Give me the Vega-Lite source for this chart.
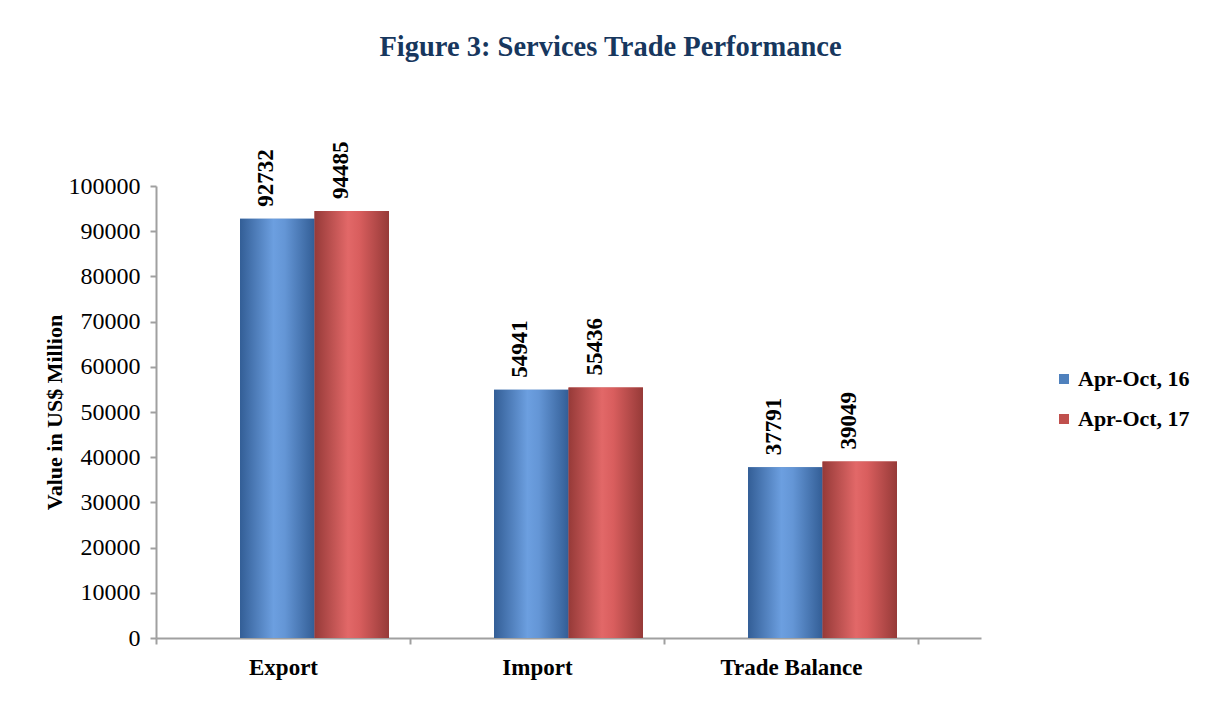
{
  "$schema": "https://vega.github.io/schema/vega-lite/v6.json",
  "width": 825,
  "height": 452,
  "autosize": {"type": "none"},
  "padding": {"left": 156, "top": 186, "right": 227, "bottom": 86},
  "background": "white",
  "title": {
    "text": "Figure 3: Services Trade Performance",
    "font": "Liberation Serif",
    "fontSize": 28.5,
    "fontWeight": "bold",
    "color": "#17375E",
    "anchor": "middle",
    "frame": "group",
    "dx": 42,
    "offset": 80
  },
  "data": {
    "values": [
      {"category": "Export", "period": "Apr-Oct, 16", "value": 92732},
      {"category": "Export", "period": "Apr-Oct, 17", "value": 94485},
      {"category": "Import", "period": "Apr-Oct, 16", "value": 54941},
      {"category": "Import", "period": "Apr-Oct, 17", "value": 55436},
      {"category": "Trade Balance", "period": "Apr-Oct, 16", "value": 37791},
      {"category": "Trade Balance", "period": "Apr-Oct, 17", "value": 39049}
    ]
  },
  "encoding": {
    "x": {
      "field": "category",
      "type": "nominal",
      "sort": ["Export", "Import", "Trade Balance"],
      "scale": {"paddingInner": 0, "paddingOuter": 0.124, "align": 0},
      "axis": {
        "title": null,
        "labelAngle": 0,
        "labelFont": "Liberation Serif",
        "labelFontSize": 23,
        "labelFontWeight": "bold",
        "labelColor": "#000000",
        "labelPadding": 12,
        "tickBand": "extent",
        "tickSize": 6,
        "tickColor": "#A0A0A0",
        "tickWidth": 2,
        "domainColor": "#A0A0A0",
        "domainWidth": 2
      }
    },
    "xOffset": {
      "field": "period",
      "type": "nominal",
      "scale": {"domain": ["Apr-Oct, 16", "Apr-Oct, 17"], "paddingInner": 0, "paddingOuter": 0.705, "align": 0.8}
    },
    "y": {
      "field": "value",
      "type": "quantitative",
      "scale": {"domain": [0, 100000], "nice": false},
      "axis": {
        "title": "Value in US$ Million",
        "titleFont": "Liberation Serif",
        "titleFontSize": 22,
        "titleFontWeight": "bold",
        "titleColor": "#000000",
        "titlePadding": 2,
        "values": [0, 10000, 20000, 30000, 40000, 50000, 60000, 70000, 80000, 90000, 100000],
        "format": "d",
        "labelFont": "Liberation Serif",
        "labelFontSize": 24,
        "labelColor": "#000000",
        "labelPadding": 10,
        "grid": false,
        "tickSize": 6,
        "tickColor": "#A0A0A0",
        "tickWidth": 2,
        "domainColor": "#A0A0A0",
        "domainWidth": 2
      }
    }
  },
  "layer": [
    {
      "mark": {"type": "bar"},
      "encoding": {
        "color": {
          "field": "period",
          "type": "nominal",
          "scale": {"domain": ["Apr-Oct, 16", "Apr-Oct, 17"], "range": ["#4F81BD", "#C0504D"]},
          "legend": {
            "title": null,
            "orient": "none",
            "legendX": 897,
            "legendY": 182,
            "symbolType": "square",
            "symbolSize": 100,
            "symbolStrokeWidth": 0,
            "labelFont": "Liberation Serif",
            "labelFontSize": 22,
            "labelFontWeight": "bold",
            "labelColor": "#000000",
            "labelOffset": 3,
            "rowPadding": 18,
            "padding": 0
          }
        }
      }
    },
    {
      "mark": {"type": "bar"},
      "encoding": {
        "color": {
          "condition": {
            "test": "datum.period === 'Apr-Oct, 16'",
            "value": {
              "gradient": "linear", "x1": 0, "y1": 0, "x2": 1, "y2": 0,
              "stops": [
                {"offset": 0, "color": "#335E96"},
                {"offset": 0.45, "color": "#6C9FE0"},
                {"offset": 0.6, "color": "#6496D6"},
                {"offset": 1, "color": "#335E96"}
              ]
            }
          },
          "value": {
            "gradient": "linear", "x1": 0, "y1": 0, "x2": 1, "y2": 0,
            "stops": [
              {"offset": 0, "color": "#963A38"},
              {"offset": 0.45, "color": "#E26868"},
              {"offset": 0.6, "color": "#D95E5E"},
              {"offset": 1, "color": "#963A38"}
            ]
          }
        }
      }
    },
    {
      "mark": {
        "type": "text",
        "angle": -90,
        "align": "left",
        "baseline": "middle",
        "dx": 12,
        "dy": -11,
        "font": "Liberation Serif",
        "fontSize": 23,
        "fontWeight": "bold",
        "color": "#000000"
      },
      "encoding": {
        "text": {"field": "value", "type": "quantitative", "format": "d"}
      }
    }
  ],
  "config": {
    "view": {"stroke": null}
  }
}
